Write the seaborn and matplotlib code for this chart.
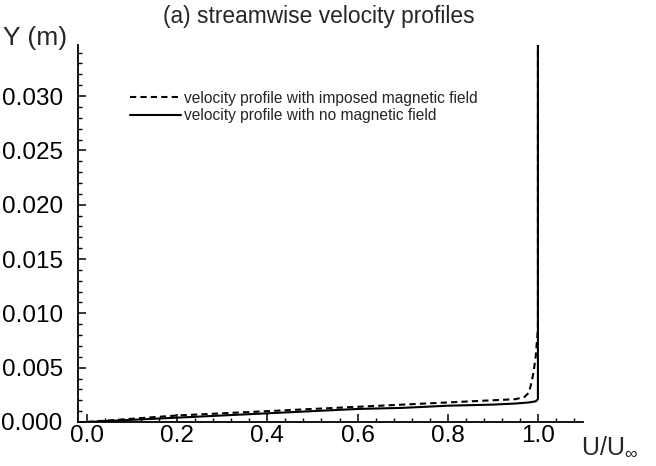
import matplotlib
matplotlib.use("Agg")
import matplotlib.pyplot as plt
import seaborn as sns
import numpy as np
import pandas as pd
from matplotlib.ticker import MultipleLocator, FormatStrFormatter

# Data
u_mag = [0.0, 0.1, 0.2, 0.3, 0.4, 0.5, 0.6, 0.7, 0.8, 0.9, 0.95, 0.97, 0.98, 0.985, 0.99, 0.995, 1.0, 1.0]
y_mag = [0.0, 0.0003, 0.0006, 0.0008, 0.0010, 0.0012, 0.0014, 0.0016, 0.0018, 0.0020, 0.0021, 0.0023, 0.0027, 0.0035, 0.0045, 0.0060, 0.0085, 0.0347]
u_nomag = [0.0, 0.05, 0.1, 0.2, 0.3, 0.4, 0.5, 0.6, 0.7, 0.8, 0.9, 0.95, 0.98, 0.995, 1.0, 1.0]
y_nomag = [0.0, 0.0001, 0.0002, 0.0004, 0.0006, 0.0008, 0.0010, 0.0012, 0.0013, 0.0015, 0.0016, 0.0017, 0.0018, 0.0019, 0.0021, 0.0347]
label_mag = "velocity profile with imposed magnetic field"
label_nomag = "velocity profile with no magnetic field"
title = "(a) streamwise velocity profiles"
ylabel = "Y (m)"
xlabel = "U/U$_{\\infty}$"
xticks = [0.0, 0.2, 0.4, 0.6, 0.8, 1.0]
yticks = [0.000, 0.005, 0.010, 0.015, 0.020, 0.025, 0.030]

sns.set_style("ticks")
plt.rcParams['font.family'] = ['Liberation Sans', 'DejaVu Sans']
plt.rcParams['mathtext.fontset'] = 'custom'
plt.rcParams['mathtext.rm'] = 'Liberation Sans'
plt.rcParams['mathtext.it'] = 'Liberation Sans'

fig = plt.figure(figsize=(6.56, 4.66), dpi=100)
W, H = 656, 466
left, right, top, bottom = 78, 583, 45, 422
ax = fig.add_axes([left / W, 1 - bottom / H, (right - left) / W, (bottom - top) / H])

df_mag = pd.DataFrame({"U": u_mag, "Y": y_mag})
df_nomag = pd.DataFrame({"U": u_nomag, "Y": y_nomag})
sns.lineplot(data=df_mag, x="U", y="Y", sort=False, estimator=None, ax=ax,
             color="black", lw=1.5, linestyle=(0, (3, 2)), label=label_mag)
sns.lineplot(data=df_nomag, x="U", y="Y", sort=False, estimator=None, ax=ax,
             color="black", lw=1.5, linestyle="-", label=label_nomag)

ax.set_xlim(-0.02, 1.1)
ax.set_ylim(0, 0.0347)
ax.set_xticks(xticks)
ax.set_yticks(yticks)
ax.xaxis.set_major_formatter(FormatStrFormatter('%.1f'))
ax.yaxis.set_major_formatter(FormatStrFormatter('%.3f'))
ax.xaxis.set_minor_locator(MultipleLocator(0.04))
ax.yaxis.set_minor_locator(MultipleLocator(0.001))
ax.tick_params(axis='both', which='major', direction='in', length=6, width=1.1,
               labelsize=17.5, color='black', labelcolor='black')
ax.tick_params(axis='both', which='minor', direction='in', length=3, width=1.0, color='black')
ax.tick_params(axis='x', which='major', pad=2)
ax.tick_params(axis='y', which='major', pad=11)
for s in ['top', 'right']:
    ax.spines[s].set_visible(False)
for s in ['left', 'bottom']:
    ax.spines[s].set_linewidth(1.3)
    ax.spines[s].set_color('black')
ax.set_xlabel("")
ax.set_ylabel("")

leg = ax.legend(loc='upper left', bbox_to_anchor=(0.09, 0.895), frameon=False,
                fontsize=11.2, handlelength=3.3, handletextpad=0.2, labelspacing=0.15,
                borderaxespad=0)

fig.text(319 / W, 1 - 16 / H, title, ha='center', va='center', fontsize=16.4)
fig.text(3 / W, 1 - 38 / H, ylabel, ha='left', va='center', fontsize=19)
fig.text(581 / W, 1 - 447 / H, xlabel, ha='left', va='center', fontsize=18)

fig.savefig("out.png", dpi=100, facecolor='white')
